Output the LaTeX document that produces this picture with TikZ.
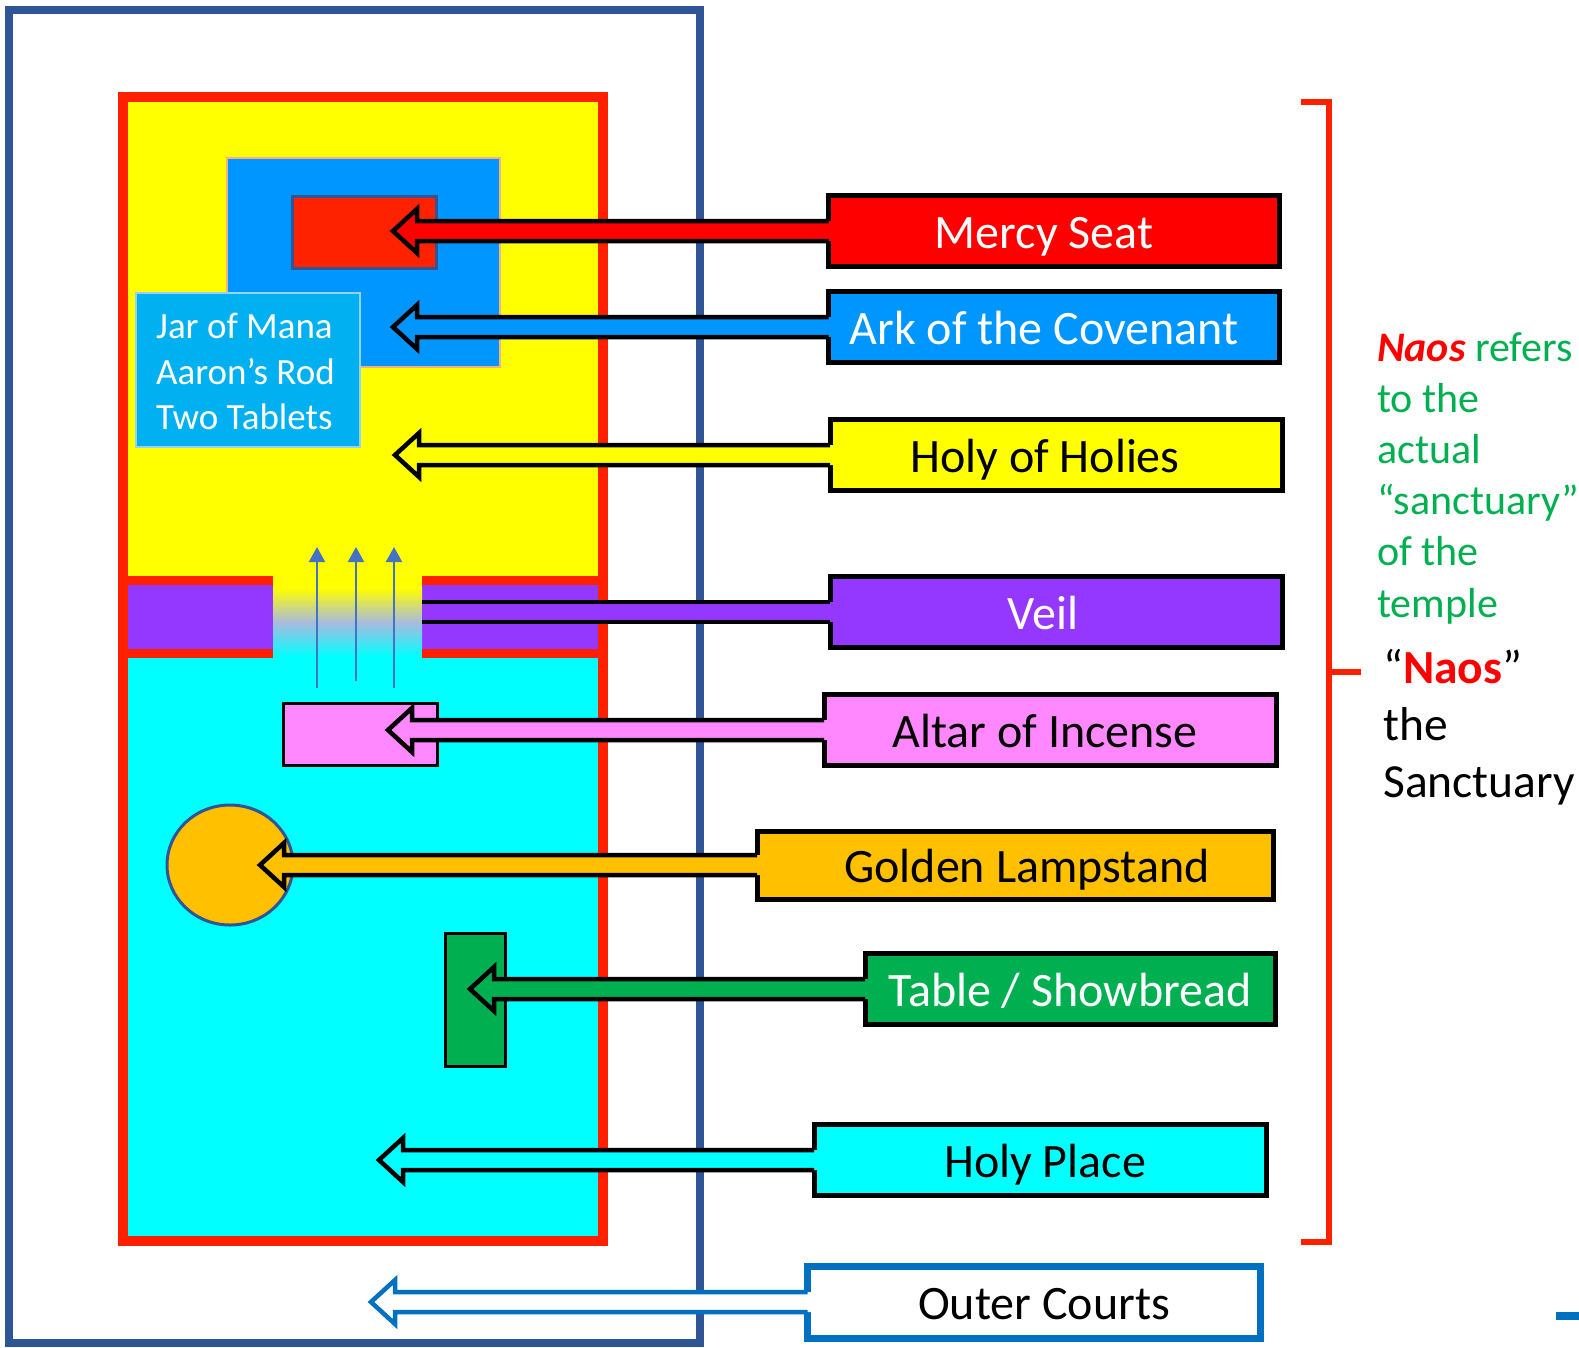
\documentclass[tikz,border=0pt]{standalone}
\usepackage{fontspec}
\setmainfont{Carlito}
\usetikzlibrary{calc,arrows.meta}

\definecolor{courtblue}{HTML}{2F5597}
\definecolor{framered}{HTML}{FF2000}
\definecolor{seatred}{HTML}{FF2200}
\definecolor{labelred}{HTML}{FF0000}
\definecolor{holyyellow}{HTML}{FFFF00}
\definecolor{holycyan}{HTML}{00FFFF}
\definecolor{veilmist}{HTML}{A8BADE}
\definecolor{arkblue}{HTML}{0096FF}
\definecolor{jarblue}{HTML}{00B0F0}
\definecolor{veilpurple}{HTML}{9437FF}
\definecolor{altarpink}{HTML}{FF88FF}
\definecolor{lampgold}{HTML}{FFC000}
\definecolor{breadgreen}{HTML}{00B050}
\definecolor{outerblue}{HTML}{0070C0}
\definecolor{smokeblue}{HTML}{4472C4}

\tikzset{
  lbl/.style={draw, line width=5pt, outer sep=0pt, inner sep=0pt,
    minimum width=452pt, minimum height=71pt},
  lbltext/.style={inner sep=0pt, text height=40pt, text depth=10pt, yshift=-2pt,
    font=\fontsize{48}{57}\selectfont},
  smoke/.style={smokeblue, line width=2pt, -{Triangle[width=16pt,length=15pt]}}
}

% box, tip, fill, outline
\newcommand{\calloutarrow}[4]{%
  \fill[#3] ($(#1.west)+(5,-10)$) -- ($(#2)+(24,-10)$) -- ($(#2)+(24,-22)$) -- (#2)
    -- ($(#2)+(24,22)$) -- ($(#2)+(24,10)$) -- ($(#1.west)+(5,10)$) -- cycle;
  \draw[#4, line width=4.5pt] ($(#1.west)+(0,-10)$) -- ($(#2)+(24,-10)$) -- ($(#2)+(24,-22)$) -- (#2)
    -- ($(#2)+(24,22)$) -- ($(#2)+(24,10)$) -- ($(#1.west)+(0,10)$);
}

\begin{document}
\begin{tikzpicture}[x=1pt, y=-1pt]
\useasboundingbox (0,0) rectangle (1579,1347);

% courts and sanctuary
\draw[courtblue, line width=8pt] (9,10) rectangle (700,1343);
\fill[holyyellow] (123,97) rectangle (603,580);
\fill[veilpurple] (123,580) rectangle (603,653);
\fill[holycyan] (123,653) rectangle (603,1241);
\fill[holyyellow] (273,575) rectangle (422,589);
\shade[top color=holyyellow, bottom color=holycyan, middle color=veilmist] (273,588) rectangle (422,657);
\draw[framered, line width=10pt] (123,97) rectangle (603,1241);
\draw[framered, line width=9pt] (123,580) -- (273,580) (422,580) -- (603,580)
  (123,653) -- (273,653) (422,653) -- (603,653);

% furniture
\filldraw[fill=arkblue, draw={rgb,255:red,244;green,177;blue,131}, line width=2pt] (227,158) rectangle (500,367);
\filldraw[fill=seatred, draw=courtblue, line width=3pt] (292,196) rectangle (436,268);
\filldraw[fill=jarblue, draw={rgb,255:red,150;green,210;blue,245}, line width=2pt] (136,293) rectangle (360,447);
\node at (156,313) [anchor=north west, inner sep=0pt, align=left, text=white,
  font=\fontsize{37}{45.5}\selectfont] (jar) {Jar of Mana\\Aaron’s Rod\\Two Tablets};
\filldraw[fill=altarpink, draw=black, line width=3pt] (283,703) rectangle (437,765);
\filldraw[fill=lampgold, draw=courtblue, line width=3pt] (230,865) ellipse [x radius=63pt, y radius=60pt];
\filldraw[fill=breadgreen, draw=black, line width=3pt] (445,933) rectangle (505,1066);

\draw[smoke] (317,688) -- (317,547);
\draw[smoke] (356,681) -- (356,547);
\draw[smoke] (394,688) -- (394,547);

% labels
\node at (1054,231) [lbl, fill=labelred, minimum width=451pt,
  label={[lbltext, text=white, xshift=-10pt]center:Mercy Seat}] (ms) {};
\node at (1054,327) [lbl, fill=arkblue, minimum width=451pt,
  label={[lbltext, text=white, xshift=-10pt]center:Ark of the Covenant}] (ark) {};
\node at (1056,455) [lbl, fill=holyyellow,
  label={[lbltext, xshift=-11pt]center:Holy of Holies}] (hoh) {};
\node at (1056,612) [lbl, fill=veilpurple,
  label={[lbltext, text=white, xshift=-13pt]center:Veil}] (veil) {};
\node at (1050,730) [lbl, fill=altarpink,
  label={[lbltext, xshift=-5pt]center:Altar of Incense}] (altar) {};
\node at (1015,865) [lbl, fill=lampgold, minimum width=516pt, minimum height=68pt,
  label={[lbltext, xshift=12pt]center:Golden Lampstand}] (lamp) {};
\node at (1070,989) [lbl, fill=breadgreen, minimum width=410pt,
  label={[lbltext, text=white]center:Table / Showbread}] (table) {};
\node at (1040,1160) [lbl, fill=holycyan,
  label={[lbltext, xshift=5pt]center:Holy Place}] (hp) {};
\node at (1034,1302) [lbl, fill=white, draw=outerblue, line width=7pt, minimum width=453pt, minimum height=72pt,
  label={[lbltext, xshift=10pt]center:Outer Courts}] (oc) {};

\coordinate (ms tip) at (393,231);
\coordinate (ark tip) at (393,327);
\coordinate (hoh tip) at (395,455);
\coordinate (veil end) at (422,612);
\coordinate (altar tip) at (388,730);
\coordinate (lamp tip) at (260,865);
\coordinate (table tip) at (470,989);
\coordinate (hp tip) at (379,1160);
\coordinate (oc tip) at (371,1302);

\calloutarrow{ms}{ms tip}{labelred}{black}
\calloutarrow{ark}{ark tip}{arkblue}{black}
\calloutarrow{hoh}{hoh tip}{holyyellow}{black}
\fill[veilpurple] ($(veil end)+(0,-10)$) rectangle ($(veil.west)+(5,10)$);
\draw[line width=4.5pt] ($(veil end)+(0,-10)$) -- ($(veil.west)+(0,-10)$)
  ($(veil end)+(0,10)$) -- ($(veil.west)+(0,10)$);
\calloutarrow{altar}{altar tip}{altarpink}{black}
\calloutarrow{lamp}{lamp tip}{lampgold}{black}
\calloutarrow{table}{table tip}{breadgreen}{black}
\calloutarrow{hp}{hp tip}{holycyan}{black}
\calloutarrow{oc}{oc tip}{white}{outerblue}

% naos bracket
\draw[framered, line width=6pt] (1301,102) -- (1329,102) -- (1329,1242) -- (1301,1242);
\draw[framered, line width=6pt] (1329,672) -- (1361,672);
\node at (1377,332) [anchor=north west, inner sep=0pt, align=left, text=breadgreen,
  font=\fontsize{42}{51.2}\selectfont] (naos note) {\textcolor{labelred}{\textbf{\textit{Naos}}} refers\\to the\\actual\\“sanctuary”\\of the\\temple};
\node at (1383,649) [anchor=north west, inner sep=0pt, align=left,
  font=\fontsize{47.5}{57}\selectfont] (naos name) {“\textcolor{labelred}{\textbf{Naos}}”\\the\\Sanctuary};
\fill[outerblue] (1556,1312) rectangle (1579,1320);
\end{tikzpicture}
\end{document}
